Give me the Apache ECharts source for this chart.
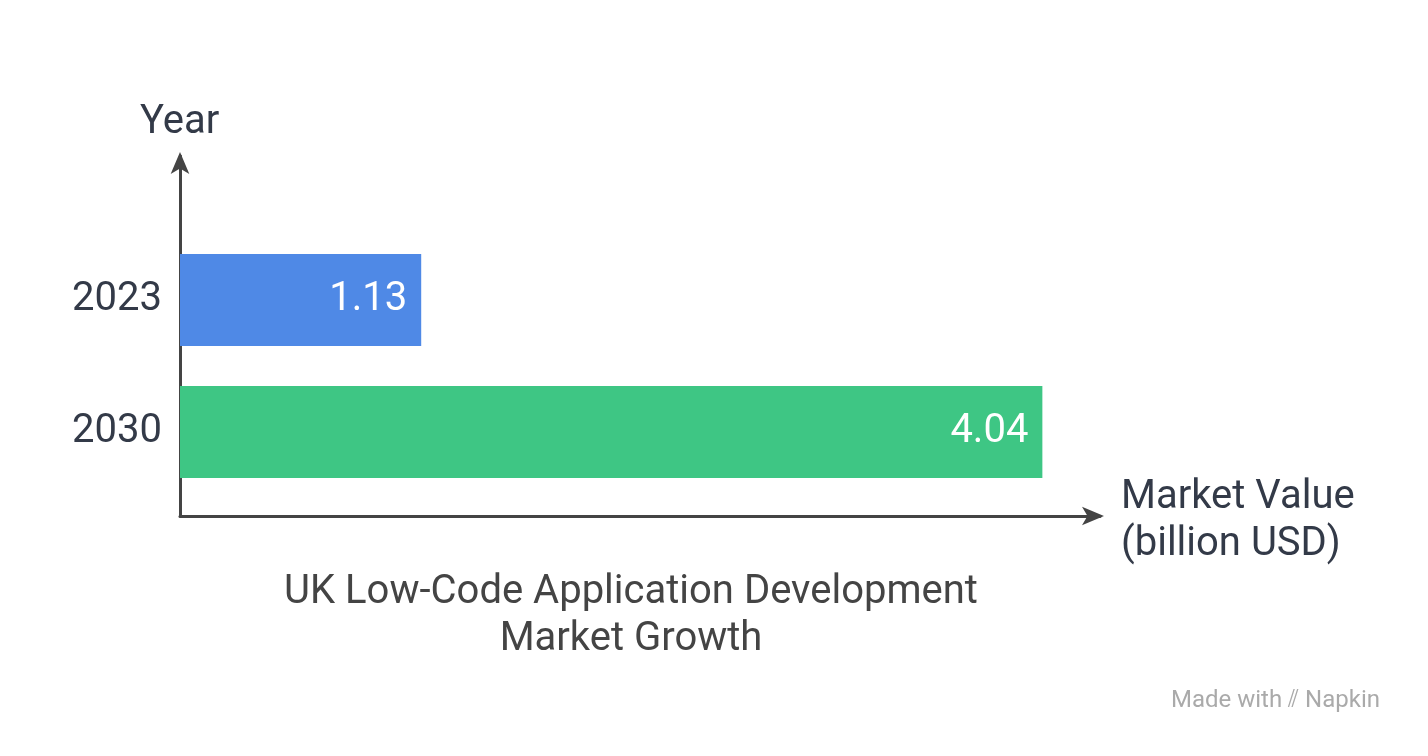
<!DOCTYPE html>
<html><head><meta charset="utf-8">
<script src="https://cdn.jsdelivr.net/npm/echarts@6/dist/echarts.min.js"></script>
<style>html,body{margin:0;padding:0;background:#fff}#c{width:1428px;height:756px}</style>
</head><body><div id="c"></div>
<script>
const categories = ['2023', '2030'];
const values = [1.13, 4.04];
const colors = ['#4f89e6', '#3ec684'];
const xMax = 4.31;
const font = 'Roboto, "Noto Sans", sans-serif';
const chart = echarts.init(document.getElementById('c'));
chart.setOption({
  animation: false,
  backgroundColor: '#fff',
  grid: [
    {left: 180, right: 328, top: 234, height: 264},
    {left: 180, right: 328, top: 156, bottom: 240}
  ],
  xAxis: [
    {gridIndex: 0, type: 'value', min: 0, max: xMax, show: false},
    {gridIndex: 1, type: 'value', min: 0, max: xMax, splitLine: {show: false}, axisTick: {show: false}, axisLabel: {show: false},
     axisLine: {show: true, symbol: ['none', 'arrow'], symbolSize: [14, 22], symbolOffset: [0, 4], lineStyle: {color: '#444', width: 3}}}
  ],
  yAxis: [
    {gridIndex: 0, type: 'category', data: categories, inverse: true, axisLine: {show: false}, axisTick: {show: false},
     axisLabel: {fontSize: 40, color: '#333a48', margin: 18, fontFamily: font, padding: [6, 0, 0, 0]}},
    {gridIndex: 1, type: 'value', min: 0, max: 1, splitLine: {show: false}, axisTick: {show: false}, axisLabel: {show: false},
     axisLine: {show: true, symbol: ['none', 'arrow'], symbolSize: [14, 22], symbolOffset: [0, 4], lineStyle: {color: '#444', width: 3}}}
  ],
  series: [{
    type: 'bar', xAxisIndex: 0, yAxisIndex: 0, barWidth: 92,
    data: values.map((v, i) => ({value: v, itemStyle: {color: colors[i]}})),
    label: {show: true, position: 'insideRight', distance: 14, color: '#fff', fontSize: 40, fontFamily: font, padding: [6, 0, 0, 0]}
  }],
  graphic: [
    {type: 'text', x: 140, y: 103, style: {text: 'Year', fontSize: 40, fill: '#333a48', fontFamily: font}},
    {type: 'text', x: 1121, y: 474, style: {text: 'Market Value\n(billion USD)', fontSize: 40, lineHeight: 47, fill: '#333a48', fontFamily: font}},
    {type: 'text', x: 631, y: 569, style: {text: 'UK Low-Code Application Development\nMarket Growth', align: 'center', fontSize: 40, lineHeight: 47, fill: '#444', fontFamily: font}},
    {type: 'text', x: 1380, y: 689, style: {text: 'Made with ⫽ Napkin', align: 'right', fontSize: 24, fill: '#aaa', fontFamily: font}}
  ]
});
</script></body></html>
